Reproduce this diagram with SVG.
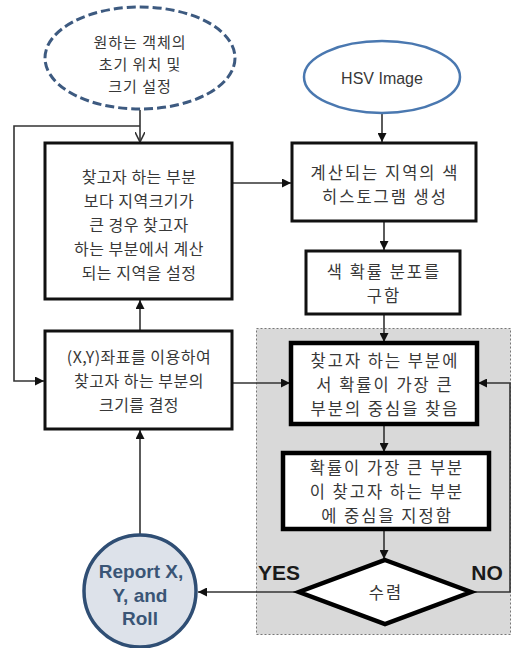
<svg xmlns="http://www.w3.org/2000/svg" width="512" height="648" viewBox="0 0 512 648">
<style>
.box{fill:#fff;stroke:#111;stroke-width:3}
.boxb{fill:#fff;stroke:#000;stroke-width:4.5}
.kr{font-family:"Noto Sans CJK KR","Liberation Sans",sans-serif;fill:#383838;text-anchor:middle;dominant-baseline:central}
.l15{font-size:15px;letter-spacing:1px}
.l16{font-size:16px;letter-spacing:0.5px}
.r18{font-size:16.5px;letter-spacing:2px}
.con{fill:none;stroke:#333;stroke-width:1.6}
.lbl{font-family:"Liberation Sans",sans-serif;font-weight:bold;font-size:21px;fill:#1a1a1a;text-anchor:middle;dominant-baseline:central}
.rep{font-family:"Liberation Sans",sans-serif;font-weight:bold;font-size:19px;fill:#3a5576;text-anchor:middle;dominant-baseline:central}
</style>
<defs>
<marker id="ah" viewBox="0 0 10 10" refX="10" refY="5" markerWidth="9" markerHeight="9" markerUnits="userSpaceOnUse" orient="auto"><path d="M0,0 L10,5 L0,10 z" fill="#111"/></marker>
<marker id="oh" viewBox="0 0 10 10" refX="10" refY="5" markerWidth="10" markerHeight="10" markerUnits="userSpaceOnUse" orient="auto"><path d="M0,0 L10,5 L0,10" fill="none" stroke="#333" stroke-width="1.6"/></marker>
</defs>
<rect x="0" y="0" width="512" height="648" fill="#fff"/>
<rect id="region" x="256.5" y="328.5" width="254" height="306" fill="#d9d9d9" stroke="#777" stroke-width="1" stroke-dasharray="2,2"/>

<g id="connectors">
<line class="con" x1="140" y1="110" x2="140" y2="142" marker-end="url(#oh)"/>
<polyline class="con" points="140,126 14,126 14,381 44,381" marker-end="url(#ah)"/>
<line class="con" x1="232" y1="183" x2="291" y2="183" marker-end="url(#ah)"/>
<line class="con" x1="382" y1="113" x2="382" y2="142" marker-end="url(#ah)"/>
<line class="con" x1="384" y1="221" x2="384" y2="250" marker-end="url(#ah)"/>
<line class="con" x1="384" y1="314" x2="384" y2="342" marker-end="url(#ah)"/>
<line class="con" x1="384" y1="424" x2="384" y2="452" marker-end="url(#ah)"/>
<line class="con" x1="384" y1="529" x2="384" y2="559" marker-end="url(#ah)"/>
<line class="con" x1="140" y1="331" x2="140" y2="300" marker-end="url(#ah)"/>
<line class="con" x1="232" y1="383" x2="290" y2="383" marker-end="url(#ah)"/>
<line class="con" x1="140" y1="535" x2="140" y2="430" marker-end="url(#ah)"/>
<line class="con" x1="299" y1="592" x2="198" y2="592" marker-end="url(#ah)"/>
<polyline class="con" points="471,592 510,592 510,383 478,383" marker-end="url(#ah)"/>
</g>

<g id="start">
<ellipse cx="140" cy="58" rx="95" ry="51" fill="#fff" stroke="#3d5a80" stroke-width="3" stroke-dasharray="9,4"/>
<text class="kr l15" x="140" y="41">원하는 객체의</text>
<text class="kr l15" x="140" y="63">초기 위치 및</text>
<text class="kr l15" x="140" y="85">크기 설정</text>
</g>

<g id="hsv">
<ellipse cx="382" cy="77" rx="78" ry="36" fill="#fff" stroke="#4a78b0" stroke-width="2.5"/>
<text class="kr" x="382" y="78" style="font-family:'Liberation Sans',sans-serif;font-size:16px">HSV Image</text>
</g>

<g id="box1">
<rect class="box" x="45" y="143" width="187" height="156"/>
<text class="kr l16" x="139" y="176">찾고자 하는 부분</text>
<text class="kr l16" x="139" y="200">보다 지역크기가</text>
<text class="kr l16" x="139" y="224">큰 경우 찾고자</text>
<text class="kr l16" x="139" y="248">하는 부분에서 계산</text>
<text class="kr l16" x="139" y="272">되는 지역을 설정</text>
</g>

<g id="box2">
<rect class="box" x="45" y="331" width="187" height="98"/>
<text class="kr l16" x="139" y="356">(X,Y)좌표를 이용하여</text>
<text class="kr l16" x="139" y="380">찾고자 하는 부분의</text>
<text class="kr l16" x="139" y="404">크기를 결정</text>
</g>

<g id="right1">
<rect class="box" x="292" y="143" width="184" height="78"/>
<text class="kr r18" x="385" y="172">계산되는 지역의 색</text>
<text class="kr r18" x="385" y="196">히스토그램 생성</text>
</g>

<g id="right2">
<rect class="box" x="306" y="251" width="154" height="63"/>
<text class="kr r18" x="384" y="271">색 확률 분포를</text>
<text class="kr r18" x="384" y="295">구함</text>
</g>

<g id="right3">
<rect class="boxb" x="291" y="343" width="186" height="81"/>
<text class="kr r18" x="385" y="360">찾고자 하는 부분에</text>
<text class="kr r18" x="385" y="384">서 확률이 가장 큰</text>
<text class="kr r18" x="385" y="408">부분의 중심을 찾음</text>
</g>

<g id="right4">
<rect class="boxb" x="283" y="453" width="206" height="76"/>
<text class="kr r18" x="387" y="467">확률이 가장 큰 부분</text>
<text class="kr r18" x="387" y="491">이 찾고자 하는 부분</text>
<text class="kr r18" x="387" y="515">에 중심을 지정함</text>
</g>

<g id="decision">
<polygon points="385,560 471,592 385,624 299,592" fill="#fff" stroke="#000" stroke-width="4.5" stroke-linejoin="miter"/>
<text class="kr r18" x="386" y="592">수렴</text>
</g>

<g id="labels">
<text class="lbl" x="279" y="572">YES</text>
<text class="lbl" x="487" y="572">NO</text>
</g>

<g id="report">
<circle cx="140" cy="591" r="56" fill="#dde2ea" stroke="#2f4e74" stroke-width="3.5"/>
<text class="rep" x="141" y="571">Report X,</text>
<text class="rep" x="140" y="595">Y, and</text>
<text class="rep" x="140" y="618">Roll</text>
</g>
</svg>
